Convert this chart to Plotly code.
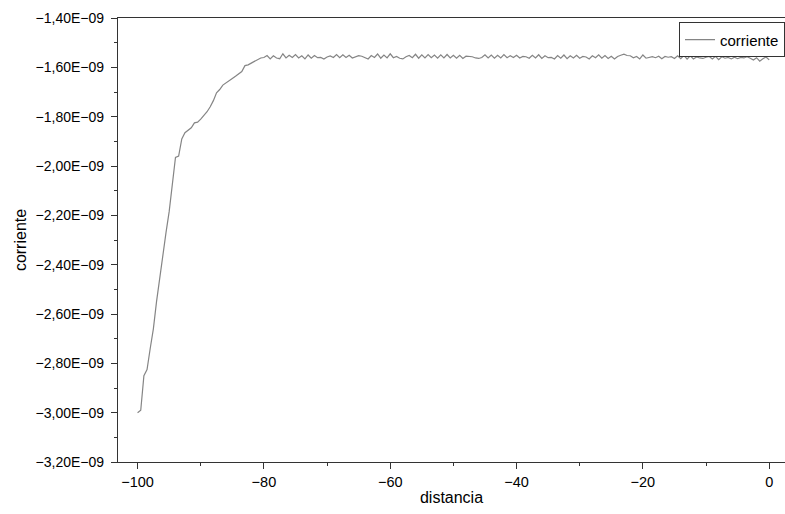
import plotly.graph_objects as go

# distancia: -100 .. 0 in steps of 0.5
distancia = [i * 0.5 - 100 for i in range(201)]

# corriente in units of 1e-9 A
corriente_rise = [
    -3.000, -2.990, -2.850, -2.825, -2.740, -2.660, -2.550, -2.450, -2.360, -2.270,
    -2.185, -2.070, -1.965, -1.960, -1.890, -1.865, -1.855, -1.845, -1.825, -1.822,
    -1.810, -1.795, -1.780, -1.760, -1.735, -1.703, -1.690, -1.672, -1.662, -1.653,
    -1.645, -1.636, -1.627, -1.617, -1.593, -1.590, -1.583, -1.576, -1.568, -1.562,
    -1.560,
]
corriente_plateau = [
    -1.552, -1.566, -1.553, -1.562, -1.565, -1.545, -1.562, -1.551, -1.560, -1.548,
    -1.562, -1.553, -1.566, -1.550, -1.563, -1.552, -1.561, -1.560, -1.566, -1.558,
    -1.554, -1.560, -1.548, -1.561, -1.549, -1.560, -1.551, -1.562, -1.556, -1.553,
    -1.555, -1.561, -1.566, -1.552, -1.560, -1.546, -1.563, -1.550, -1.562, -1.545,
    -1.561, -1.556, -1.563, -1.566, -1.557, -1.552, -1.561, -1.547, -1.563, -1.549,
    -1.562, -1.548, -1.561, -1.550, -1.563, -1.549, -1.562, -1.548, -1.562, -1.551,
    -1.563, -1.551, -1.564, -1.555, -1.556, -1.557, -1.562, -1.564, -1.560, -1.549,
    -1.562, -1.550, -1.563, -1.551, -1.562, -1.548, -1.561, -1.553, -1.560, -1.551,
    -1.562, -1.556, -1.557, -1.563, -1.551, -1.562, -1.549, -1.564, -1.553, -1.561,
    -1.560, -1.566, -1.552, -1.563, -1.550, -1.565, -1.553, -1.562, -1.551, -1.563,
    -1.556, -1.558, -1.566, -1.553, -1.561, -1.549, -1.563, -1.552, -1.564, -1.555,
    -1.566, -1.556, -1.551, -1.547, -1.552, -1.553, -1.561, -1.556, -1.566, -1.550,
    -1.563, -1.560, -1.557, -1.561, -1.555, -1.565, -1.556, -1.559, -1.557, -1.564,
    -1.553, -1.565, -1.551, -1.567, -1.553, -1.566, -1.558, -1.562, -1.564, -1.559,
    -1.556, -1.566, -1.555, -1.569, -1.557, -1.563, -1.560, -1.566, -1.559, -1.565,
    -1.560, -1.562, -1.557, -1.563, -1.570, -1.561, -1.575, -1.565, -1.558, -1.570,
]
corriente = [v * 1e-9 for v in corriente_rise + corriente_plateau]

y_tick_vals = [-3.2e-9, -3.0e-9, -2.8e-9, -2.6e-9, -2.4e-9, -2.2e-9,
               -2.0e-9, -1.8e-9, -1.6e-9, -1.4e-9]
y_tick_text = ["\u22123,20E\u221209", "\u22123,00E\u221209", "\u22122,80E\u221209",
               "\u22122,60E\u221209", "\u22122,40E\u221209", "\u22122,20E\u221209",
               "\u22122,00E\u221209", "\u22121,80E\u221209", "\u22121,60E\u221209",
               "\u22121,40E\u221209"]
y_minor_vals = [-3.1e-9, -2.9e-9, -2.7e-9, -2.5e-9, -2.3e-9, -2.1e-9,
                -1.9e-9, -1.7e-9, -1.5e-9]

axis_color = "#333333"
font_family = "Liberation Sans, Arial, sans-serif"

fig = go.Figure()
fig.add_trace(go.Scatter(
    x=distancia, y=corriente, mode="lines", name="corriente",
    line=dict(color="#858585", width=1.2),
))

fig.update_layout(
    width=785, height=514,
    margin=dict(l=118, r=0, t=18, b=52),
    paper_bgcolor="white", plot_bgcolor="white",
    font=dict(family=font_family, size=14, color="#000000"),
    showlegend=True,
    legend=dict(
        x=1, y=0.99, xanchor="right", yanchor="top",
        bgcolor="white", bordercolor="#333333", borderwidth=1,
        font=dict(size=15), itemwidth=30,
        tracegroupgap=0,
    ),
    xaxis=dict(
        range=[-103.1, 2.5],
        tickmode="array", tickvals=[-100, -80, -60, -40, -20, 0],
        ticks="outside", ticklen=6, tickwidth=1, tickcolor=axis_color,
        minor=dict(tickmode="array", tickvals=[-90, -70, -50, -30, -10],
                   ticks="outside", ticklen=3, tickcolor=axis_color),
        showline=True, linecolor=axis_color, linewidth=1.2, mirror=True,
        showgrid=False, zeroline=False,
        title=dict(text="distancia", font=dict(size=16), standoff=3),
        tickfont=dict(size=14.5),
    ),
    yaxis=dict(
        range=[-3.2e-9, -1.4e-9],
        tickmode="array", tickvals=y_tick_vals, ticktext=y_tick_text,
        ticks="outside", ticklen=6, tickwidth=1, tickcolor=axis_color,
        minor=dict(tickmode="array", tickvals=y_minor_vals,
                   ticks="outside", ticklen=3, tickcolor=axis_color),
        showline=True, linecolor=axis_color, linewidth=1.2,
        showgrid=False, zeroline=False,
        title=dict(text="corriente", font=dict(size=16), standoff=4),
        tickfont=dict(size=14),
        ticklabelstandoff=4,
    ),
)

fig.write_html("out.html")
